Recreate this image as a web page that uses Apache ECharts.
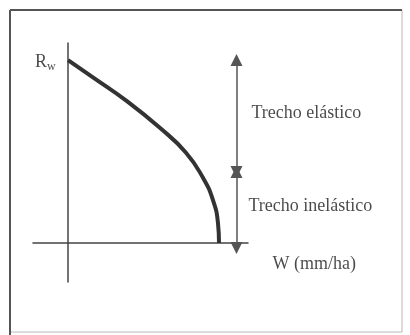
<!DOCTYPE html>
<html>
<head>
<meta charset="utf-8">
<script src="https://cdn.jsdelivr.net/npm/echarts@6/dist/echarts.min.js"></script>
<style>
  html, body { margin: 0; padding: 0; background: #fff; }
  #chart { width: 410px; height: 335px; }
</style>
</head>
<body>
<div id="chart"></div>
<script>
// Curve R(W): Rw = 100, W at the end of the curve = 100 (relative units)
const wValues = [0, 16.5, 39, 61, 78, 89.5, 96, 99.3, 100];
const rValues = [100, 90.5, 77.5, 62.8, 49.5, 35.5, 23.5, 11, 0];

// Double arrows on the right: elastic stretch and inelastic stretch
const arrowW = 111.6;
const arrowStops = [100, 38.8, -2.7];

// Text annotations [W, R, text]
const notes = [
  [121.5, 71, 'Trecho elástico'],
  [119.5, 20.2, 'Trecho inelástico'],
  [135.4, -11.5, 'W (mm/ha)'],
];
const rwLabel = [-21.8, 99, '{r|R}{s|w}'];

const ink = '#1c1c1c';
const serif = '"Liberation Serif", "DejaVu Serif", serif';

const chart = echarts.init(document.getElementById('chart'), null, { renderer: 'canvas' });

chart.setOption({
  animation: false,
  backgroundColor: '#fff',
  grid: { left: 33, right: 162, top: 43, bottom: 53 },
  xAxis: {
    type: 'value', min: -23.2, max: 119.2,
    axisLine: { onZero: true, lineStyle: { color: '#444', width: 1.5 } },
    axisTick: { show: false }, axisLabel: { show: false }, splitLine: { show: false },
  },
  yAxis: {
    type: 'value', min: -21.3, max: 109.3,
    axisLine: { onZero: true, lineStyle: { color: '#444', width: 1.5 } },
    axisTick: { show: false }, axisLabel: { show: false }, splitLine: { show: false },
  },
  graphic: [
    { type: 'rect', shape: { x: 10, y: 10, width: 392, height: 322 },
      style: { fill: 'none', stroke: '#b8b8b8', lineWidth: 1 }, silent: true },
    { type: 'line', shape: { x1: 10, y1: 10, x2: 402, y2: 10 },
      style: { stroke: '#555', lineWidth: 2 }, silent: true },
    { type: 'line', shape: { x1: 10, y1: 10, x2: 10, y2: 335 },
      style: { stroke: '#555', lineWidth: 2 }, silent: true },
  ],
  series: [
    {
      type: 'line',
      data: wValues.map((w, i) => [w, rValues[i]]),
      smooth: 0.5,
      symbol: 'none',
      lineStyle: { color: '#333', width: 4 },
      markLine: {
        silent: true,
        symbol: ['triangle', 'triangle'],
        symbolSize: [12, 12],
        label: { show: false },
        lineStyle: { color: '#555', width: 1.5, type: 'solid' },
        itemStyle: { color: '#333' },
        data: [
          [{ coord: [arrowW, arrowStops[0]] }, { coord: [arrowW, arrowStops[1]] }],
          [{ coord: [arrowW, arrowStops[1]] }, { coord: [arrowW, arrowStops[2]] }],
        ],
      },
    },
    {
      type: 'scatter',
      clip: false,
      silent: true,
      symbolSize: 0,
      data: notes.map((n) => ({ value: [n[0], n[1]], name: n[2] })),
      label: {
        show: true, position: 'right', distance: 0,
        formatter: (p) => p.name,
        fontFamily: serif, fontSize: 18, color: ink,
      },
    },
    {
      type: 'scatter',
      clip: false,
      silent: true,
      symbolSize: 0,
      data: [{ value: [rwLabel[0], rwLabel[1]], name: rwLabel[2] }],
      label: {
        show: true, position: 'right', distance: 0,
        formatter: (p) => p.name,
        rich: {
          r: { fontFamily: serif, fontSize: 18, color: ink },
          s: { fontFamily: serif, fontSize: 12, color: ink, padding: [9, 0, 0, 0] },
        },
      },
    },
  ],
});
</script>
</body>
</html>
